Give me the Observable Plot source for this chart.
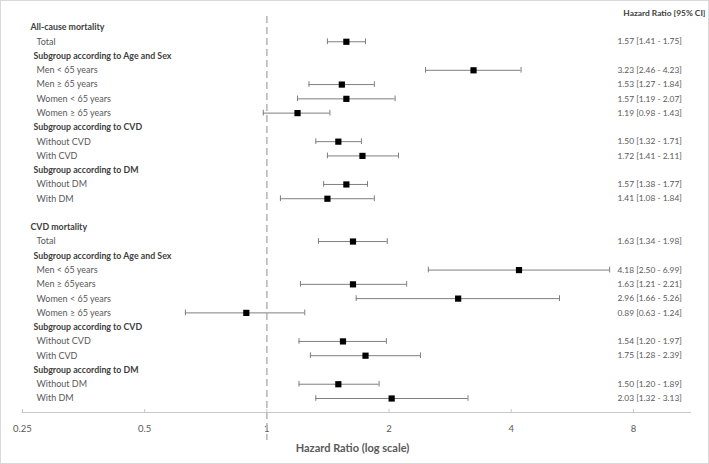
<!DOCTYPE html>
<html>
<head>
<meta charset="utf-8">
<script src="https://cdn.jsdelivr.net/npm/d3@7"></script>
<script src="https://cdn.jsdelivr.net/npm/@observablehq/plot@0.6"></script>
<style>
  body { margin: 0; background: #fff; }
  #chart svg { outline: 1px solid #d9d9d9; outline-offset: -1px; display: block; }
</style>
</head>
<body>
<div id="chart"></div>
<script>
const labels = ["All-cause mortality","Total","Subgroup according to Age and Sex","Men < 65 years","Men ≥ 65 years","Women < 65 years","Women ≥ 65 years","Subgroup according to CVD","Without CVD","With CVD","Subgroup according to DM","Without DM","With DM","",
  "CVD mortality","Total","Subgroup according to Age and Sex","Men < 65 years","Men ≥ 65years","Women < 65 years","Women ≥ 65 years","Subgroup according to CVD","Without CVD","With CVD","Subgroup according to DM","Without DM","With DM"];
const levels = [0,2,1,2,2,2,2,1,2,2,1,2,2,2, 0,2,1,2,2,2,2,1,2,2,1,2,2];
const hr = [null,1.57,null,3.23,1.53,1.57,1.19,null,1.50,1.72,null,1.57,1.41,null, null,1.63,null,4.18,1.63,2.96,0.89,null,1.54,1.75,null,1.50,2.03];
const lo = [null,1.41,null,2.46,1.27,1.19,0.98,null,1.32,1.41,null,1.38,1.08,null, null,1.34,null,2.50,1.21,1.66,0.63,null,1.20,1.28,null,1.20,1.32];
const hi = [null,1.75,null,4.23,1.84,2.07,1.43,null,1.71,2.11,null,1.77,1.84,null, null,1.98,null,6.99,2.21,5.26,1.24,null,1.97,2.39,null,1.89,3.13];
const xTicks = [0.25, 0.5, 1, 2, 4, 8];
const ciHeader = "Hazard Ratio [95% CI]";
const xTitle = "Hazard Ratio (log scale)";

const rows = labels.map((label, i) => ({
  i, label, level: levels[i], hr: hr[i], lo: lo[i], hi: hi[i],
  ci: hr[i] == null ? "" : `${hr[i].toFixed(2)} [${lo[i].toFixed(2)} - ${hi[i].toFixed(2)}]`
}));
const est = rows.filter(d => d.hr != null);
const caps = est.flatMap(d => [{i: d.i, x: d.lo}, {i: d.i, x: d.hi}]);
const lvl = k => rows.filter(d => d.level === k);

const font = "Lato, 'Open Sans', sans-serif";
const plot = Plot.plot({
  width: 709,
  height: 464,
  marginTop: 10,
  marginBottom: 52,
  marginLeft: 22,
  marginRight: 19,
  style: {fontFamily: font, fontSize: "9px", color: "#595959", background: "#fff"},
  x: {type: "log", base: 2, domain: [0.25, 11.06], ticks: xTicks, tickFormat: d => String(d)},
  y: {domain: [0, 26], range: [27, 398], axis: null},
  marks: [
    Plot.frame({anchor: "bottom", stroke: "#c8c8c8"}),
    Plot.axisX(xTicks, {tickSize: -3, tickPadding: 16, stroke: "#c8c8c8", fill: "#595959", fontSize: 9.5, label: null}),
    Plot.ruleX([1], {stroke: "#bdbdbd", strokeWidth: 1.7, strokeDasharray: "7,4", insetTop: 6, insetBottom: -28}),
    Plot.ruleY(est, {y: "i", x1: "lo", x2: "hi", stroke: "#7f7f7f", strokeWidth: 1}),
    Plot.ruleX(caps, {x: "x", y1: d => d.i - 0.2, y2: d => d.i + 0.2, stroke: "#7f7f7f", strokeWidth: 1}),
    Plot.dot(est, {x: "hr", y: "i", symbol: "square", r: 3.5, fill: "#000", stroke: "none"}),
    Plot.text(lvl(0), {y: "i", text: "label", frameAnchor: "left", textAnchor: "start", dx: 8, fontWeight: "bold", fill: "#404040", fontSize: 8.8}),
    Plot.text(lvl(1), {y: "i", text: "label", frameAnchor: "left", textAnchor: "start", dx: 11, fontWeight: "bold", fill: "#404040", fontSize: 8.8}),
    Plot.text(lvl(2), {y: "i", text: "label", frameAnchor: "left", textAnchor: "start", dx: 14, fill: "#595959", fontSize: 9}),
    Plot.text(rows, {y: "i", text: "ci", frameAnchor: "right", textAnchor: "start", dx: -73, fill: "#595959", fontSize: 8.4}),
    Plot.text([ciHeader], {y: [-1], frameAnchor: "right", textAnchor: "end", dx: 15, fontWeight: "bold", fill: "#404040", fontSize: 8.4}),
    Plot.text([xTitle], {frameAnchor: "bottom", dy: 39, dx: -4, fontWeight: "bold", fill: "#595959", fontSize: 11})
  ]
});
document.getElementById("chart").appendChild(plot);
</script>
</body>
</html>
